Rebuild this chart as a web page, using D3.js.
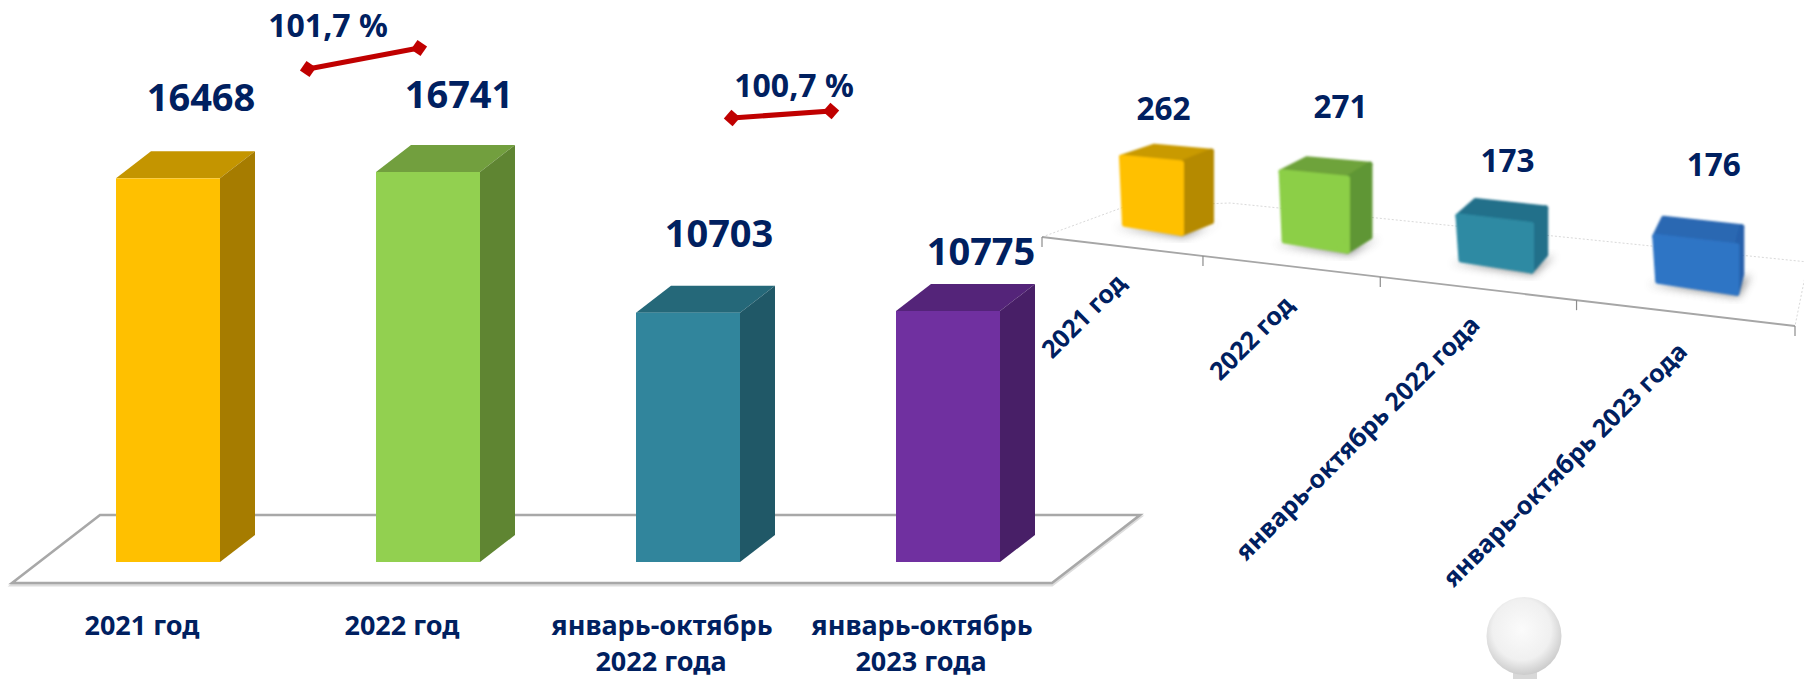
<!DOCTYPE html>
<html><head><meta charset="utf-8">
<script src="https://cdnjs.cloudflare.com/ajax/libs/d3/7.8.5/d3.min.js"></script>
<style>html,body{margin:0;padding:0;background:#fff}svg{display:block}text{font-family:"Noto Sans",sans-serif;font-weight:700;fill:#002060}</style>
</head><body><div id="c"></div>
<script>
// ---- data
const categoriesLeft = [["2021 год"],["2022 год"],["январь-октябрь","2022 года"],["январь-октябрь","2023 года"]];
const valuesLeft = [16468,16741,10703,10775];
const categoriesRight = ["2021 год","2022 год","январь-октябрь 2022 года","январь-октябрь 2023 года"];
const valuesRight = [262,271,173,176];
const growthLabels = ["101,7 %","100,7 %"];
// ---- colours
const leftFront = ["#ffc000","#92d050","#31859c","#7030a0"];
const leftTop = ["#c49500","#729f3e","#256879","#542479"];
const leftSide = ["#a67c00","#5f8532","#205867","#481f67"];
const rightFront = ["#ffc000","#8ccf47","#2f8aa3","#2f75c5"];
const rightTop = ["#c99a00","#6ea33a","#23708a","#2a68b2"];
const rightSide = ["#b58a00","#5f9635","#22708a","#2561ab"];
const red = "#c00000";

const W=1804,H=679;
const svg=d3.select("#c").append("svg").attr("width",W).attr("height",H);
const defs=svg.append("defs");
const blur=(id,s)=>defs.append("filter").attr("id",id).attr("x","-30%").attr("y","-30%").attr("width","160%").attr("height","160%").append("feGaussianBlur").attr("stdDeviation",s);
blur("b1",0.7);blur("b4",4);blur("b2",1.1);
const pts=a=>a.map(p=>p.join(",")).join(" ");

// ---- left chart: 3D columns on a skewed floor
const floorFront=583, floorBack=515, skew=88;
const xL=d3.scaleBand().domain(d3.range(4)).range([12,1052]).paddingInner(0.6).paddingOuter(0.3);
const yL=d3.scaleLinear().domain([0,16741]).range([562,172]);
const baseSkew=26, dX=35, dY=27;
const gL=svg.append("g");
const floor=[[12,floorFront],[12+skew,floorBack],[1052+skew,floorBack],[1052,floorFront]];
gL.append("polygon").attr("points",pts(floor.map(p=>[p[0],p[1]+2]))).attr("fill","none").attr("stroke","#ddd").attr("stroke-width",3).attr("filter","url(#b1)");
gL.append("polygon").attr("points",pts(floor)).attr("fill","#fff").attr("stroke","#a8a8a8").attr("stroke-width",2.6);
const bars=gL.selectAll("g.bar").data(valuesLeft).join("g").attr("class","bar");
bars.each(function(v,i){
  const g=d3.select(this),x0=xL(i)+baseSkew,w=xL.bandwidth(),x1=x0+w,yb=yL(0),yt=yL(v);
  g.append("polygon").attr("points",pts([[x0,yt],[x1,yt],[x1+dX,yt-dY],[x0+dX,yt-dY]])).attr("fill",leftTop[i]);
  g.append("polygon").attr("points",pts([[x1,yt],[x1+dX,yt-dY],[x1+dX,yb-dY],[x1,yb]])).attr("fill",leftSide[i]);
  g.append("rect").attr("x",x0).attr("y",yt).attr("width",w).attr("height",yb-yt).attr("fill",leftFront[i]);
});
const valNudgeL=[[33,-67],[31,-64],[31,-66],[33,-46]];
gL.selectAll("text.val").data(valuesLeft).join("text").attr("class","val")
 .attr("text-anchor","middle").attr("font-size",38)
 .attr("x",(v,i)=>xL(i)+baseSkew+xL.bandwidth()/2+valNudgeL[i][0])
 .attr("y",(v,i)=>yL(v)+valNudgeL[i][1])
 .text(d=>d);
categoriesLeft.forEach((lines,i)=>{
  lines.forEach((s,j)=>{
    gL.append("text").attr("text-anchor","middle").attr("font-size",27)
      .attr("x",xL(i)+xL.bandwidth()/2+(j?-1:0)).attr("y",635+j*36).text(s);
  });
});

// growth connectors (annotation layout)
const connLayout=[{a:[308,69],b:[419,48],t:[328,37]},{a:[732,118],b:[831,111],t:[794,97]}];
growthLabels.forEach((s,k)=>{
  const {a,b,t}=connLayout[k];
  const ang=Math.atan2(b[1]-a[1],b[0]-a[0])*180/Math.PI;
  const g=svg.append("g");
  g.append("line").attr("x1",a[0]).attr("y1",a[1]).attr("x2",b[0]).attr("y2",b[1]).attr("stroke",red).attr("stroke-width",5);
  [a,b].forEach(p=>g.append("path").attr("d",d3.symbol(d3.symbolSquare,135)()).attr("transform",`translate(${p[0]},${p[1]}) rotate(${45+ang})`).attr("fill",red));
  g.append("text").attr("text-anchor","middle").attr("font-size",32).attr("x",t[0]).attr("y",t[1]).text(s);
});

// ---- right chart: cubes on a perspective plane
const persp=t=>t/(1.226-0.226*t);
const xR=d3.scaleLinear().domain([0,1]).range([1042,1795]);
const axisY=d3.scaleLinear().domain([1042,1795]).range([237,326]);
const tick=i=>xR(persp(i/4));
const hR=d3.scaleLinear().domain([0,271]).range([0,73]);
const depthX=d3.scaleLinear().domain([1118,1737]).range([33,5]);
const depthY=d3.scaleLinear().domain([1118,1737]).range([-11,-19]);
const centerShift=d3.scaleLinear().domain([0,3]).range([29,10]);
const lift=d3.scaleLinear().domain([0,3]).range([20,26]);
const gR=svg.append("g");
const back=[[1042,237],[1124,207],[1230,203],[1808,262],[1795,326]];
gR.append("polyline").attr("points",pts(back)).attr("fill","none").attr("stroke","#d9d9d9").attr("stroke-width",1).attr("stroke-dasharray","2 2");
gR.append("line").attr("x1",xR(0)).attr("y1",axisY(xR(0))).attr("x2",xR(1)).attr("y2",axisY(xR(1))).attr("stroke","#a6a6a6").attr("stroke-width",1.8);
d3.range(5).forEach(i=>{const x=tick(i);gR.append("line").attr("x1",x).attr("x2",x).attr("y1",axisY(x)).attr("y2",axisY(x)+10).attr("stroke","#8c8c8c").attr("stroke-width",1.2);});
const valNudgeR=[[41,-55.5],[49,-75.5],[29,-70],[28,-90]];
const labelEnd=[[5,38],[4,40],[3,38],[3,40]];
valuesRight.forEach((v,i)=>{
  const bw=tick(i+1)-tick(i),c=(tick(i)+tick(i+1))/2, w=bw*0.385;
  const xl=c+centerShift(i)-w/2, xr=xl+w;
  const BL=[xl+4,axisY(xl)-lift(i)-2], BR=[xr-1,axisY(xr)-lift(i)];
  const hr=hR(v), hl=hr*0.95;
  const TL=[xl+1,BL[1]-hl], TR=[xr-1,BR[1]-hr];
  const dL=[depthX(xl),depthY(xl)], dR=[depthX(xr),depthY(xr)];
  const TLb=[TL[0]+dL[0],TL[1]+dL[1]], TRb=[TR[0]+dR[0],TR[1]+dR[1]], BRb=[BR[0]+dR[0],BR[1]+dR[1]];
  const g=gR.append("g");
  g.append("polygon").attr("points",pts([[BL[0]-10,BL[1]+3],[BR[0]+2,BR[1]+4],[BRb[0]+9,BRb[1]+1],[BRb[0]-6,BRb[1]+6]])).attr("fill","#555").attr("opacity",.6).attr("filter","url(#b4)");
  const body=g.append("g").attr("filter","url(#b2)").attr("stroke-linejoin","round").attr("stroke-width",5);
  const face=(p,c)=>body.append("polygon").attr("points",pts(p)).attr("fill",c).attr("stroke",c);
  face([TL,TR,TRb,TLb],rightTop[i]);
  face([TR,TRb,BRb,BR],rightSide[i]);
  face([TL,TR,BR,BL],rightFront[i]);
  g.append("text").attr("text-anchor","middle").attr("font-size",31.5)
    .attr("x",c+valNudgeR[i][0]).attr("y",axisY(c)-hr+valNudgeR[i][1]).text(v);
  gR.append("text").attr("text-anchor","end").attr("font-size",25)
    .attr("transform",`translate(${c+labelEnd[i][0]},${axisY(c)+labelEnd[i][1]}) rotate(-45)`).text(categoriesRight[i]);
});

// ---- decorative figure head
const hg=defs.append("radialGradient").attr("id","head").attr("cx","47%").attr("cy","42%").attr("r","60%");
hg.append("stop").attr("offset","0%").attr("stop-color","#fbfbfb");
hg.append("stop").attr("offset","65%").attr("stop-color","#f0f0f0");
hg.append("stop").attr("offset","100%").attr("stop-color","#c8c8c8");
svg.append("rect").attr("x",1513).attr("y",670).attr("width",24).attr("height",9).attr("fill","#d8d8d8");
svg.append("ellipse").attr("cx",1524).attr("cy",636).attr("rx",37.5).attr("ry",39).attr("fill","url(#head)").attr("filter","url(#b1)");
</script></body></html>
